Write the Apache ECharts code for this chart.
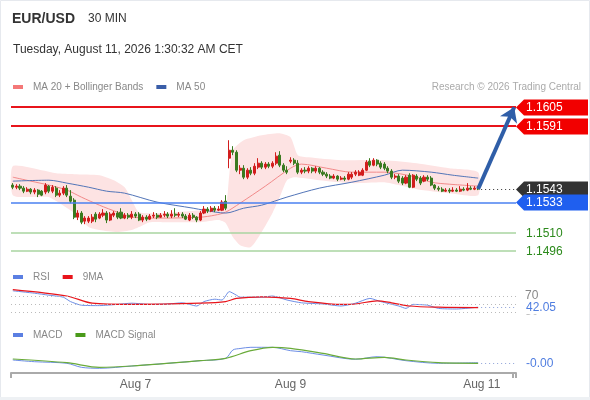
<!DOCTYPE html>
<html>
<head>
<meta charset="utf-8">
<script src="https://cdn.jsdelivr.net/npm/echarts@6/dist/echarts.min.js"></script>
<style>
html, body { margin: 0; padding: 0; background: #fff; }
#chart { width: 590px; height: 400px; }
</style>
</head>
<body>
<div id="chart"></div>
<script>
// ---- data ----
const slotCount = 140
const dayTickIndex = [34, 77, 130]
const dayTickText = ['Aug 7', 'Aug 9', 'Aug 11']

// [open, close, low, high]
const candles = [
  [1.15460,1.15444,1.15429,1.15475],[1.15444,1.15452,1.15429,1.15467],[1.15452,1.15437,1.15422,1.15467],
  [1.15437,1.15414,1.15399,1.15452],[1.15414,1.15429,1.15407,1.15444],[1.15429,1.15407,1.15391,1.15437],
  [1.15407,1.15422,1.15391,1.15437],[1.15422,1.15391,1.15369,1.15429],[1.15414,1.15384,1.15376,1.15422],
  [1.15407,1.15460,1.15391,1.15475],[1.15452,1.15414,1.15399,1.15460],[1.15414,1.15444,1.15399,1.15460],
  [1.15437,1.15384,1.15369,1.15452],[1.15384,1.15399,1.15369,1.15422],[1.15399,1.15437,1.15384,1.15452],
  [1.15437,1.15384,1.15369,1.15460],[1.15376,1.15338,1.15323,1.15422],[1.15346,1.15217,1.15202,1.15361],
  [1.15217,1.15248,1.15195,1.15270],[1.15248,1.15179,1.15164,1.15263],[1.15187,1.15210,1.15164,1.15225],
  [1.15187,1.15210,1.15172,1.15225],[1.15187,1.15217,1.15172,1.15240],[1.15240,1.15202,1.15179,1.15255],
  [1.15210,1.15240,1.15202,1.15255],[1.15232,1.15248,1.15217,1.15278],[1.15248,1.15195,1.15172,1.15263],
  [1.15195,1.15240,1.15187,1.15255],[1.15232,1.15248,1.15217,1.15263],[1.15248,1.15217,1.15202,1.15263],
  [1.15255,1.15210,1.15202,1.15285],[1.15210,1.15232,1.15202,1.15248],[1.15232,1.15217,1.15202,1.15248],
  [1.15217,1.15240,1.15202,1.15263],[1.15240,1.15225,1.15210,1.15255],[1.15240,1.15195,1.15187,1.15255],
  [1.15195,1.15217,1.15179,1.15232],[1.15217,1.15202,1.15187,1.15232],[1.15202,1.15225,1.15195,1.15240],
  [1.15225,1.15232,1.15210,1.15255],[1.15232,1.15217,1.15202,1.15248],[1.15217,1.15232,1.15210,1.15248],
  [1.15232,1.15240,1.15217,1.15263],[1.15240,1.15225,1.15210,1.15255],[1.15225,1.15240,1.15210,1.15270],
  [1.15240,1.15232,1.15217,1.15285],[1.15232,1.15240,1.15217,1.15255],[1.15240,1.15225,1.15210,1.15255],
  [1.15225,1.15202,1.15195,1.15240],[1.15195,1.15232,1.15187,1.15248],[1.15232,1.15217,1.15202,1.15248],
  [1.15217,1.15195,1.15179,1.15225],[1.15195,1.15248,1.15187,1.15263],[1.15248,1.15278,1.15240,1.15301],
  [1.15278,1.15263,1.15248,1.15293],[1.15263,1.15285,1.15255,1.15301],[1.15285,1.15270,1.15255,1.15301],
  [1.15270,1.15278,1.15263,1.15301],[1.15270,1.15331,1.15263,1.15346],[1.15338,1.15285,1.15270,1.15384],
  [1.15664,1.15724,1.15588,1.15800],[1.15724,1.15709,1.15687,1.15755],[1.15709,1.15573,1.15558,1.15724],
  [1.15573,1.15588,1.15543,1.15611],[1.15588,1.15520,1.15505,1.15611],[1.15520,1.15573,1.15505,1.15588],
  [1.15573,1.15550,1.15535,1.15596],[1.15550,1.15603,1.15535,1.15626],[1.15596,1.15626,1.15581,1.15664],
  [1.15626,1.15596,1.15581,1.15641],[1.15596,1.15619,1.15581,1.15634],[1.15619,1.15603,1.15588,1.15634],
  [1.15603,1.15626,1.15588,1.15641],[1.15626,1.15679,1.15611,1.15709],[1.15687,1.15611,1.15596,1.15717],
  [1.15611,1.15573,1.15558,1.15626],[1.15573,1.15558,1.15543,1.15603],[1.15641,1.15649,1.15626,1.15671],
  [1.15649,1.15626,1.15611,1.15664],[1.15626,1.15558,1.15543,1.15649],[1.15558,1.15573,1.15543,1.15588],
  [1.15573,1.15566,1.15550,1.15596],[1.15566,1.15588,1.15550,1.15603],[1.15588,1.15566,1.15550,1.15596],
  [1.15566,1.15588,1.15550,1.15603],[1.15588,1.15558,1.15543,1.15596],[1.15558,1.15543,1.15528,1.15573],
  [1.15543,1.15528,1.15513,1.15558],[1.15528,1.15513,1.15505,1.15543],[1.15513,1.15528,1.15505,1.15543],
  [1.15528,1.15505,1.15490,1.15535],[1.15505,1.15513,1.15497,1.15528],[1.15513,1.15505,1.15490,1.15528],
  [1.15505,1.15543,1.15497,1.15558],[1.15520,1.15543,1.15505,1.15558],[1.15543,1.15558,1.15528,1.15573],
  [1.15535,1.15558,1.15528,1.15573],[1.15535,1.15573,1.15528,1.15588],[1.15573,1.15634,1.15566,1.15649],
  [1.15641,1.15611,1.15596,1.15664],[1.15611,1.15649,1.15603,1.15664],[1.15649,1.15619,1.15603,1.15656],
  [1.15626,1.15596,1.15581,1.15641],[1.15619,1.15588,1.15573,1.15634],[1.15588,1.15566,1.15550,1.15603],
  [1.15566,1.15520,1.15505,1.15581],[1.15520,1.15528,1.15505,1.15543],[1.15528,1.15490,1.15475,1.15543],
  [1.15513,1.15475,1.15460,1.15528],[1.15475,1.15520,1.15467,1.15535],[1.15535,1.15444,1.15437,1.15550],
  [1.15444,1.15535,1.15437,1.15543],[1.15528,1.15505,1.15490,1.15543],[1.15513,1.15475,1.15460,1.15528],
  [1.15490,1.15520,1.15482,1.15535],[1.15520,1.15505,1.15490,1.15535],[1.15513,1.15460,1.15452,1.15528],
  [1.15460,1.15437,1.15422,1.15467],[1.15437,1.15429,1.15414,1.15452],[1.15429,1.15414,1.15407,1.15444],
  [1.15414,1.15422,1.15407,1.15437],[1.15422,1.15414,1.15399,1.15437],[1.15414,1.15422,1.15407,1.15444],
  [1.15422,1.15414,1.15407,1.15437],[1.15414,1.15429,1.15407,1.15452],[1.15429,1.15422,1.15414,1.15444],
  [1.15422,1.15437,1.15414,1.15475],[1.15437,1.15429,1.15422,1.15452],[1.15429,1.15437,1.15422,1.15452],
  [1.15437,1.15430,1.15422,1.15452]
]

// [candle index, value]
const ma20 = [[0,1.15520],[5,1.15490],[10,1.15460],[15,1.15422],[19,1.15369],[24,1.15308],[29,1.15255],
  [33,1.15217],[41,1.15210],[52,1.15217],[56,1.15232],[59,1.15255],[63,1.15323],[70,1.15452],[77,1.15588],
  [80,1.15619],[87,1.15588],[94,1.15558],[103,1.15558],[112,1.15520],[116,1.15482],[121,1.15467],[129,1.15452]]
const ma50 = [[0,1.15490],[10,1.15497],[15,1.15475],[21,1.15444],[26,1.15414],[31,1.15399],[40,1.15331],
  [50,1.15285],[53,1.15270],[59,1.15248],[64,1.15285],[69,1.15308],[76,1.15369],[85,1.15437],[94,1.15482],
  [103,1.15535],[108,1.15573],[116,1.15558],[122,1.15535],[129,1.15513]]
const bandUpper = [[0,1.15603],[8,1.15573],[12,1.15550],[17,1.15543],[24,1.15535],[28,1.15497],[31,1.15444],
  [33,1.15346],[35,1.15255],[41,1.15248],[52,1.15270],[57,1.15285],[59,1.15285],[60,1.15535],[61,1.15724],
  [64,1.15800],[69,1.15838],[74,1.15853],[77,1.15823],[79,1.15687],[82,1.15671],[91,1.15649],[103,1.15649],
  [112,1.15626],[121,1.15588],[129,1.15558]]
const bandLower = [[0,1.15384],[6,1.15369],[10,1.15369],[17,1.15248],[21,1.15142],[24,1.15119],[29,1.15104],
  [33,1.15119],[35,1.15142],[38,1.15179],[43,1.15179],[52,1.15179],[57,1.15195],[59,1.15172],[61,1.15066],
  [63,1.15005],[66,1.14990],[69,1.15104],[72,1.15248],[74,1.15369],[76,1.15497],[78,1.15520],[85,1.15497],
  [94,1.15475],[103,1.15482],[107,1.15460],[112,1.15429],[121,1.15399],[129,1.15384]]

const priceLevels = [1.1605, 1.1591, 1.1543, 1.1533, 1.1510, 1.1496]

const rsi = [[0,83],[6,77],[10,72],[14,67],[16,56],[19,47],[24,46],[29,49],[33,52],[38,49],[43,50],[47,53],
  [51,45],[53,56],[56,62],[58,60],[60,81],[62,72],[63,67],[69,67],[72,70],[76,60],[80,53],[86,50],[91,45],
  [95,52],[99,64],[102,56],[107,45],[109,39],[111,49],[115,47],[118,39],[123,37.5],[129,42.05]]
const rsiMa = [[0,86],[15,70],[22,52],[33,49],[52,52],[59,56],[62,64],[69,68],[77,64],[82,56],[91,49],[95,50],
  [101,58],[105,53],[110,45],[118,42],[129,41]]
const rsiLevels = [70, 50, 30]

const macd = [[0,-0.0005],[6,-0.00067],[15,-0.00083],[19,-0.00123],[24,-0.00133],[33,-0.0011],[43,-0.00083],
  [52,-0.00057],[59,-0.00033],[61,0.0005],[63,0.00065],[66,0.00077],[72,0.00077],[77,0.00043],[80,0.00033],
  [86,0],[95,-0.00043],[101,-0.00017],[109,-0.00057],[118,-0.00083],[129,-0.00077]]
const macdSignal = [[0,-0.0004],[15,-0.00077],[24,-0.00123],[33,-0.0011],[52,-0.00057],[59,-0.00033],
  [66,0.00043],[72,0.00077],[77,0.00067],[86,0.00017],[95,-0.0004],[103,-0.00023],[109,-0.0005],
  [118,-0.00077],[129,-0.00083]]

// ---- chart ----
const FONT = '"Liberation Sans", Arial, sans-serif'
const lastIndex = candles.length - 1
const lastClose = candles[lastIndex][1]
const categories = []
for (let i = 0; i < slotCount; i++) categories.push(String(i))

// tag look for each price level
const levelLook = [
  { box: '#f20000', text: '#fff' },
  { box: '#f20000', text: '#fff' },
  { box: '#333333', text: '#fff', dotted: true },
  { box: '#1f5fef', text: '#fff' },
  { box: null, text: '#2c8a1c' },
  { box: null, text: '#2c8a1c' }
]

function bandItem(params, api) {
  const up = bandUpper.map(p => api.coord(p))
  const lo = bandLower.map(p => api.coord(p)).reverse()
  return {
    type: 'polygon',
    shape: { points: up.concat(lo), smooth: 0.2 },
    style: { fill: '#fde3e3' }
  }
}

function levelTag(params, api) {
  const i = params.dataIndex
  const v = priceLevels[i]
  const look = levelLook[i]
  const right = params.coordSys.x + params.coordSys.width
  const p = api.coord([lastIndex, v])
  const y = Math.round(p[1]) + 0.5
  const kids = []
  if (look.dotted) {
    kids.push({ type: 'line', shape: { x1: p[0] + 3, y1: y, x2: right, y2: y },
      style: { stroke: '#333', lineWidth: 1, lineDash: [1, 3] } })
  }
  if (look.box) {
    kids.push({ type: 'polygon',
      shape: { points: [[right, y], [right + 8, y - 8], [right + 72, y - 8], [right + 72, y + 8], [right + 8, y + 8]] },
      style: { fill: look.box } })
  }
  kids.push({ type: 'text', x: right + 10, y: y,
    style: { text: v.toFixed(4), fill: look.text, font: '12px ' + FONT, verticalAlign: 'middle' } })
  return { type: 'group', children: kids }
}

function sideTag(text) {
  return function (params, api) {
    const right = params.coordSys.x + params.coordSys.width
    const p = api.coord([api.value(0), api.value(1)])
    const y = Math.round(p[1]) + 0.5
    return { type: 'group', children: [
      { type: 'line', shape: { x1: p[0] + 3, y1: y, x2: right, y2: y },
        style: { stroke: '#8ea2d8', lineWidth: 1, lineDash: [1, 3] } },
      { type: 'text', x: right + 8, y: y,
        style: { text: text, fill: '#4f7de0', font: '12px ' + FONT, verticalAlign: 'middle',
          backgroundColor: '#fff', padding: [1, 2] } }
    ] }
  }
}

const chart = echarts.init(document.getElementById('chart'))

const legendBase = {
  icon: 'rect', itemWidth: 10, itemHeight: 4, itemGap: 13, selectedMode: false, padding: 0,
  textStyle: { color: '#888', fontSize: 10, fontFamily: FONT, padding: [0, 0, 0, 5] }
}

const hiddenX = g => ({
  type: 'category', gridIndex: g, data: categories, boundaryGap: true,
  axisLine: { show: false }, axisTick: { show: false }, axisLabel: { show: false }, splitLine: { show: false }
})

const levelLine = (v, color, width) => ({ yAxis: v, lineStyle: { color: color, width: width, type: 'solid' } })

const option = {
  animation: false,
  backgroundColor: '#fff',
  textStyle: { fontFamily: FONT },
  graphic: [{ type: 'rect', silent: true, shape: { x: 0.5, y: 0.5, width: 589, height: 398 },
    style: { fill: 'none', stroke: '#e6e9ee', lineWidth: 1 } },
    { type: 'rect', silent: true, shape: { x: 0, y: 397, width: 590, height: 3 }, style: { fill: '#eef1f4' } }],
  title: [
    { text: 'EUR/USD', left: 12, top: 12, padding: 0,
      textStyle: { fontSize: 14, fontWeight: 'bold', color: '#333', fontFamily: FONT } },
    { text: '30 MIN', left: 88, top: 13, padding: 0,
      textStyle: { fontSize: 12, fontWeight: 'normal', color: '#333', fontFamily: FONT } },
    { text: 'Tuesday, August 11, 2026 1:30:32 AM CET', left: 13, top: 44, padding: 0,
      textStyle: { fontSize: 12, fontWeight: 'normal', color: '#333', fontFamily: FONT } },
    { text: 'Research \u00a9 2026 Trading Central', right: 9, top: 82, padding: 0,
      textStyle: { fontSize: 10, fontWeight: 'normal', color: '#aaa', fontFamily: FONT } }
  ],
  legend: [
    Object.assign({ data: ['MA 20 + Bollinger Bands', 'MA 50'], left: 13, top: 82 }, legendBase),
    Object.assign({ data: ['RSI', '9MA'], left: 13, top: 272 }, legendBase),
    Object.assign({ data: ['MACD', 'MACD Signal'], left: 13, top: 330 }, legendBase)
  ],
  grid: [
    { left: 11, right: 74, top: 98, height: 161 },
    { left: 11, right: 74, top: 284, height: 40 },
    { left: 11, right: 74, top: 345, height: 28 }
  ],
  xAxis: [
    hiddenX(0),
    hiddenX(1),
    {
      type: 'category', gridIndex: 2, data: categories, boundaryGap: true,
      axisLine: { show: true, onZero: false, lineStyle: { color: '#aaa', width: 2 } },
      axisTick: { show: true, length: 5, lineStyle: { color: '#aaa', width: 2 },
        interval: i => i === 0 || i === slotCount - 1 },
      axisLabel: { show: true, color: '#666', fontSize: 12, margin: 6,
        interval: i => dayTickIndex.indexOf(i) >= 0,
        formatter: (v, i) => { const k = dayTickIndex.indexOf(i); return k >= 0 ? dayTickText[k] : '' } },
      splitLine: { show: false }
    }
  ],
  yAxis: [
    { type: 'value', gridIndex: 0, min: 1.1490, max: 1.1612, show: false, splitLine: { show: false } },
    { type: 'value', gridIndex: 1, min: 0, max: 100, interval: 10, position: 'right',
      axisLine: { show: false }, axisTick: { show: false }, splitLine: { show: false },
      axisLabel: { color: '#888', fontSize: 12, margin: 9,
        formatter: v => (v === 70 || v === 30) ? String(v) : '' } },
    { type: 'value', gridIndex: 2, min: -0.0018, max: 0.001, show: false, splitLine: { show: false } }
  ],
  series: [
    { type: 'custom', xAxisIndex: 0, yAxisIndex: 0, z: 1, silent: true,
      renderItem: bandItem, data: [[0, 1.155]] },
    { name: 'MA 20 + Bollinger Bands', type: 'line', xAxisIndex: 0, yAxisIndex: 0, z: 2,
      data: ma20, smooth: 0.3, showSymbol: false, itemStyle: { color: '#f47878' },
      lineStyle: { color: '#f28a8a', width: 1 } },
    { name: 'MA 50', type: 'line', xAxisIndex: 0, yAxisIndex: 0, z: 2,
      data: ma50, smooth: 0.3, showSymbol: false, itemStyle: { color: '#3a5ea8' },
      lineStyle: { color: '#5275b8', width: 1 },
      markLine: {
        silent: true, symbol: ['none', 'none'], animation: false, precision: 5, label: { show: false },
        data: [
          levelLine(priceLevels[0], '#e8141b', 2),
          levelLine(priceLevels[1], '#e8141b', 2),
          levelLine(priceLevels[3], '#4a80f0', 1.5),
          levelLine(priceLevels[4], '#a9d5a0', 1.5),
          levelLine(priceLevels[5], '#a9d5a0', 1.5)
        ]
      } },
    { name: 'EUR/USD', type: 'candlestick', xAxisIndex: 0, yAxisIndex: 0, z: 3,
      data: candles, barWidth: 2.6,
      itemStyle: { color: '#d21d1d', color0: '#3a7a1f', borderColor: '#d21d1d', borderColor0: '#3a7a1f', borderWidth: 1 },
      markLine: {
        silent: true, symbol: ['none', 'none'], animation: false, precision: 5, label: { show: false },
        data: [
          [
            { coord: [lastIndex, lastClose], symbol: 'none', lineStyle: { color: '#2f5ea8', width: 4, type: 'solid' } },
            { coord: [slotCount - 1, priceLevels[0]], symbol: 'arrow', symbolSize: 14 }
          ]
        ]
      } },
    { type: 'custom', xAxisIndex: 0, yAxisIndex: 0, z: 5, silent: true, clip: false,
      renderItem: levelTag, data: priceLevels.map(v => [lastIndex, v]) },

    { name: 'RSI', type: 'line', xAxisIndex: 1, yAxisIndex: 1, data: rsi, smooth: 0.2, showSymbol: false,
      itemStyle: { color: '#5b7fe2' }, lineStyle: { color: '#6d8ee6', width: 1 },
      markLine: { silent: true, symbol: ['none', 'none'], label: { show: false },
        lineStyle: { color: '#bbb', type: [1, 3], width: 1 },
        data: rsiLevels.map(v => ({ yAxis: v })) } },
    { name: '9MA', type: 'line', xAxisIndex: 1, yAxisIndex: 1, data: rsiMa, smooth: 0.3, showSymbol: false,
      itemStyle: { color: '#e8141b' }, lineStyle: { color: '#e8141b', width: 1.2 } },
    { type: 'custom', xAxisIndex: 1, yAxisIndex: 1, z: 5, silent: true, clip: false,
      renderItem: sideTag(rsi[rsi.length - 1][1].toFixed(2)), data: [rsi[rsi.length - 1]] },

    { name: 'MACD', type: 'line', xAxisIndex: 2, yAxisIndex: 2, data: macd, smooth: 0.3, showSymbol: false,
      itemStyle: { color: '#5b7fe2' }, lineStyle: { color: '#6d8ee6', width: 1 } },
    { name: 'MACD Signal', type: 'line', xAxisIndex: 2, yAxisIndex: 2, data: macdSignal, smooth: 0.3, showSymbol: false,
      itemStyle: { color: '#4a9a1a' }, lineStyle: { color: '#6aab3a', width: 1.2 } },
    { type: 'custom', xAxisIndex: 2, yAxisIndex: 2, z: 5, silent: true, clip: false,
      renderItem: sideTag(macd[macd.length - 1][1].toFixed(2)), data: [macd[macd.length - 1]] }
  ]
}

chart.setOption(option)
</script>
</body>
</html>
